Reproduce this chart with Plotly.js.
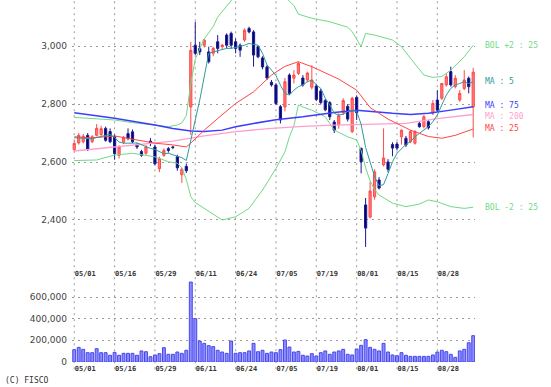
<!DOCTYPE html>
<html><head><meta charset="utf-8">
<script src="https://cdn.plot.ly/plotly-3.0.1.min.js"></script>
<style>html,body{margin:0;padding:0;background:#fff}#chart{width:551px;height:387px}</style>
</head><body><div id="chart"></div>
<script>
const dates = ["05/01","05/02","05/07","05/08","05/09","05/10","05/13","05/14","05/15","05/16",
"05/17","05/20","05/21","05/22","05/23","05/24","05/27","05/28","05/29","05/30","05/31",
"06/03","06/04","06/05","06/06","06/07","06/10","06/11","06/12","06/13","06/14","06/17","06/18","06/19","06/20","06/21","06/24","06/25","06/26","06/27","06/28",
"07/01","07/02","07/03","07/04","07/05","07/08","07/09","07/10","07/11","07/12","07/16","07/17","07/18","07/19","07/22","07/23","07/24","07/25","07/26","07/29","07/30","07/31",
"08/01","08/02","08/05","08/06","08/07","08/08","08/09","08/13","08/14","08/15","08/16","08/19","08/20","08/21","08/22","08/23","08/26","08/27","08/28","08/29","08/30",
"09/02","09/03","09/04","09/05","09/06","09/09"];

const openP = [2643,2666,2670,2692,2670,2692,2695,2716,2705,2687,
2623,2668,2698,2704,2660,2636,2630,2672,2652,2577,
2623,2646,2652,2618,2556,2585,2790,3003,2992,3003,
2980,2975,3015,2998,3038,3044,3015,3003,3021,3061,
3049,2998,2959,2928,2875,2866,2791,2790,2900,2889,
2906,2890,2883,2858,2862,2845,2812,2805,2738,2728,
2770,2792,2705,2823,2647,2452,2410,2480,2538,2590,
2600,2660,2662,2687,2682,2670,2665,2733,2722,2739,
2768,2814,2820,2866,2912,2860,2814,2854,2889,2790];
const highP = [2673,2700,2697,2700,2693,2731,2725,2722,2716,2695,
2658,2690,2716,2712,2665,2642,2658,2683,2660,2618,
2647,2652,2656,2625,2580,2595,3015,3084,3015,3025,
2998,2998,3038,3008,3044,3050,3026,3009,3061,3067,
3055,3003,2965,2935,2883,2872,2797,2890,2906,2917,
2946,2900,2912,2934,2870,2852,2818,2810,2745,2768,
2820,2800,2825,2830,2650,2476,2532,2575,2548,2716,
2610,2668,2670,2712,2690,2710,2710,2738,2762,2745,
2814,2848,2871,2906,2929,2900,2848,2917,2895,2925];
const lowP = [2635,2660,2664,2638,2665,2688,2690,2670,2665,2608,
2612,2662,2675,2665,2645,2618,2625,2655,2588,2565,
2618,2632,2644,2570,2528,2562,2693,2969,2969,2995,
2940,2965,2975,2990,2992,2992,2975,2963,3015,3044,
2929,2958,2920,2883,2860,2797,2733,2775,2831,2871,
2900,2860,2875,2850,2810,2798,2775,2745,2700,2715,
2762,2740,2700,2745,2561,2307,2406,2470,2505,2585,
2565,2620,2640,2660,2652,2665,2660,2718,2716,2712,
2762,2773,2814,2860,2860,2854,2808,2848,2837,2685];
const closeP = [2664,2692,2689,2643,2687,2716,2715,2675,2670,2629,
2652,2685,2681,2670,2652,2623,2652,2665,2594,2612,
2640,2640,2650,2580,2575,2570,2985,2975,2980,3021,
2946,2992,2992,3003,3003,3003,2992,2986,3055,3049,
2969,2963,2928,2890,2866,2802,2745,2877,2837,2900,
2940,2866,2907,2883,2816,2805,2780,2756,2710,2760,
2812,2748,2820,2770,2601,2372,2500,2566,2510,2614,
2575,2648,2648,2710,2659,2705,2705,2722,2756,2718,
2802,2779,2871,2894,2866,2889,2837,2883,2860,2910];

const volume = [114000,135000,117000,86000,86000,123000,86000,86000,62000,89000,
62000,80000,80000,80000,62000,102000,95000,49000,65000,77000,
132000,71000,71000,92000,80000,108000,738000,400000,194000,172000,
151000,142000,108000,92000,80000,194000,80000,86000,86000,102000,
172000,95000,108000,80000,92000,86000,114000,203000,138000,92000,
98000,62000,55000,77000,55000,86000,102000,71000,92000,102000,
117000,71000,65000,120000,154000,206000,135000,117000,102000,172000,
92000,65000,58000,86000,62000,52000,52000,52000,52000,52000,
65000,92000,108000,95000,71000,43000,102000,117000,178000,243000];

const ma5 = [2684,2683,2681,2680,2680,2685,2689,2693,2695,2684,
2669,2665,2664,2665,2666,2660,2652,2647,2643,2636,
2629,2630,2625,2622,2615,2605,2680,2745,2814,2890,
2975,2980,2984,2986,2992,2992,2996,2998,3003,3009,
3007,3003,2975,2935,2917,2898,2865,2837,2831,2848,
2860,2866,2877,2883,2866,2854,2820,2797,2768,2762,
2765,2774,2779,2774,2730,2650,2600,2550,2518,2522,
2560,2601,2630,2647,2661,2670,2687,2699,2710,2722,
2739,2762,2797,2831,2854,2866,2871,2877,2871,2877];

const ma25Idx = [0,4,9,14,18,22,24,25,26,29,32,36,40,44,47,50,53,59,63,66,70,75,79,82,85,89];
const ma25 = [2687,2683,2690,2676,2665,2659,2655,2652,2665,2710,2750,2802,2842,2900,2930,2946,2929,2886,2848,2788,2748,2710,2688,2682,2692,2714];

const ma75Idx = [0,9,18,22,26,29,33,36,40,45,51,58,63,67,71,75,79,84,89];
const ma75 = [2770,2751,2728,2716,2707,2705,2710,2722,2733,2746,2756,2771,2779,2773,2768,2764,2768,2779,2791];

const ma200Idx = [0,9,18,22,29,36,44,51,58,67,74,81,89];
const ma200 = [2638,2652,2664,2672,2690,2705,2716,2723,2727,2731,2733,2750,2764];

const bolUpIdx = [0,6,9,13,18,21,23,24,25,26,27,28,29,31,32,34,36,40,44,47,49,50,53,57,61,62,64,65,67,71,73,75,78,80,82,84,87,89];
const bolUp = [2754,2747,2745,2736,2728,2722,2728,2735,2760,2870,2955,2990,3025,3067,3100,3138,3175,3210,3205,3170,3140,3110,3096,3084,3065,3050,2998,3044,3038,3021,2998,2958,2900,2892,2895,2917,2963,3003];

const bolDnIdx = [0,5,9,13,18,21,23,24,25,26,27,30,33,36,39,42,45,47,48,49,50,51,53,56,58,61,63,64,65,66,67,68,71,74,77,79,81,84,87,89];
const bolDn = [2605,2607,2624,2630,2618,2601,2596,2580,2540,2480,2460,2429,2400,2411,2440,2503,2578,2635,2687,2725,2797,2790,2779,2756,2710,2687,2676,2640,2580,2535,2505,2486,2458,2446,2455,2469,2463,2446,2440,2444];

const tickDates = ["05/01","05/16","05/29","06/11","06/24","07/05","07/19","08/01","08/15","08/28"];
const priceTicks = [2400,2600,2800,3000];
const volTicks = [0,200000,400000,600000];

const lineDefs = [
  {name:"BOL +2 : 25", idx:bolUpIdx, vals:bolUp, color:"#6fd987", width:1, shift:0},
  {name:"BOL -2 : 25", idx:bolDnIdx, vals:bolDn, color:"#6fd987", width:1, shift:0},
  {name:"MA : 200", idx:ma200Idx, vals:ma200, color:"#ff9fcf", width:1.3, shift:-2},
  {name:"MA : 75", idx:ma75Idx, vals:ma75, color:"#3c3cff", width:1.5, shift:1},
  {name:"MA : 25", idx:ma25Idx, vals:ma25, color:"#ff4545", width:1, shift:0},
  {name:"MA : 5", idx:dates.map((d,i)=>i), vals:ma5, color:"#2f9b9b", width:1, shift:0}
];

const traces = [];
traces.push({
  type:'candlestick', x:dates, open:openP, high:highP, low:lowP, close:closeP,
  xaxis:'x', yaxis:'y', whiskerwidth:0, hoverinfo:'skip', showlegend:false,
  increasing:{line:{color:'#ff4a4a', width:1}, fillcolor:'#ff7878'},
  decreasing:{line:{color:'#1c1c8c', width:1}, fillcolor:'#000080'}
});
lineDefs.forEach(l => traces.push({
  type:'scatter', mode:'lines', x:l.idx.map(i=>dates[i]), y:l.vals,
  xaxis:'x', yaxis:'y', line:{color:l.color, width:l.width}, hoverinfo:'skip', showlegend:false
}));
traces.push({
  type:'bar', x:dates, y:volume, xaxis:'x2', yaxis:'y2', width:0.65,
  marker:{color:'#8c8cff', line:{color:'#4646ee', width:1}}, hoverinfo:'skip', showlegend:false
});

const L = 72, R = 76, T = 0, B = 25, W = 551, H = 387;
const plotW = W - L - R, plotH = H - T - B;
const grid = '#9a9a9a', dash = '2px,4px';
const yFont = {family:'DejaVu Sans', size:9, color:'#444'};
const xFont = {family:'DejaVu Sans Mono', size:7, color:'#333', weight:'bold'};

const shapes = tickDates.map(d => ({
  type:'line', xref:'x', yref:'paper', x0:dates.indexOf(d), x1:dates.indexOf(d), y0:-0.02, y1:1,
  line:{color:grid, width:1, dash:dash}, layer:'below'
}));

const annotations = lineDefs.map(l => ({
  xref:'x', yref:'y', x:dates.length-1, y:l.vals[l.vals.length-1], text:l.name,
  xanchor:'left', yanchor:'middle', xshift:10, yshift:l.shift, showarrow:false,
  font:{family:'DejaVu Sans Mono', size:8, color:l.color}
}));
annotations.push({
  xref:'paper', yref:'paper', x:(3-L)/plotW, y:(plotH-(380-T))/plotH, text:'(C) FISCO',
  xanchor:'left', yanchor:'middle', showarrow:false,
  font:{family:'DejaVu Sans Mono', size:8, color:'#333'}
});

const layout = {
  width:W, height:H, margin:{l:L, r:R, t:T, b:B, pad:0},
  paper_bgcolor:'#fff', plot_bgcolor:'#fff', showlegend:false, hovermode:false,
  xaxis:{type:'category', range:[-0.5, 89.4], anchor:'y', domain:[0,1],
    tickvals:tickDates, ticktext:tickDates, tickfont:xFont, ticks:'', showgrid:false,
    zeroline:false, showline:false, rangeslider:{visible:false},
    ticklabelshift:11, ticklabelstandoff:6},
  yaxis:{domain:[(362-262)/362, 1], range:[2255, 3159], tickvals:priceTicks, tickformat:',',
    tickfont:yFont, ticks:'', gridcolor:grid, griddash:dash, gridwidth:1, zeroline:false,
    showline:false, ticklabelstandoff:4},
  xaxis2:{type:'category', matches:'x', anchor:'y2', range:[-0.5, 89.4],
    tickvals:tickDates, ticktext:tickDates, tickfont:xFont, ticks:'', showgrid:false,
    zeroline:false, showline:false, ticklabelshift:11, ticklabelstandoff:1},
  yaxis2:{domain:[0, 82/362], range:[0, 757000], tickvals:volTicks, tickformat:',',
    tickfont:yFont, ticks:'', gridcolor:grid, griddash:dash, gridwidth:1, zeroline:false,
    showline:false, ticklabelstandoff:4},
  shapes:shapes, annotations:annotations
};

Plotly.newPlot('chart', traces, layout, {staticPlot:true, displayModeBar:false});
</script></body></html>
